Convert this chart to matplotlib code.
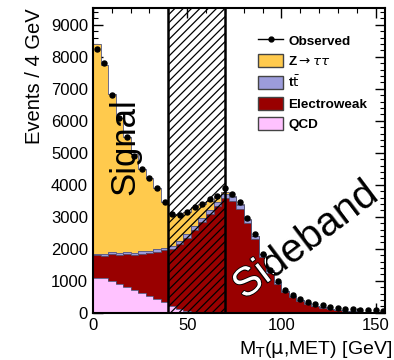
import numpy as np
import matplotlib.pyplot as plt
import matplotlib.patheffects as pe
from matplotlib.ticker import MultipleLocator

plt.rcParams['font.family'] = ['Liberation Sans', 'DejaVu Sans']
plt.rcParams['hatch.linewidth'] = 0.9

# 4 GeV bins, 0 - 156 GeV
edges = np.arange(0, 160, 4)

observed = [8250, 7800, 6800, 6100, 5500, 4900, 4500, 4200, 3900, 3450,
            3100, 3050, 3150, 3300, 3400, 3550, 3650,
            3900, 3700, 3450, 2950, 2450, 1850, 1350, 1000, 720, 560, 440,
            350, 280, 230, 190, 160, 130, 110, 95, 85, 75, 65]
qcd = [1080, 1080, 1000, 900, 800, 720, 620, 520, 430, 350,
       200, 120, 60, 30, 10, 5, 0,
       0, 0, 0, 0, 0, 0, 0, 0, 0, 0, 0, 0, 0, 0, 0, 0, 0, 0, 0, 0, 0, 0]
electroweak = [720, 700, 850, 900, 1030, 1080, 1230, 1340, 1470, 1600,
               1780, 2030, 2290, 2570, 2840, 3095, 3350,
               3600, 3500, 3250, 2800, 2300, 1750, 1250, 900, 640, 480, 360,
               270, 200, 150, 110, 80, 60, 40, 30, 20, 15, 10]
ttbar = [50, 60, 60, 70, 70, 80, 80, 80, 90, 90,
         100, 100, 110, 110, 120, 120, 120,
         120, 120, 110, 100, 90, 80, 70, 60, 50, 40, 35, 30, 25, 20, 18,
         15, 12, 10, 8, 7, 6, 5]
ztautau = [6550, 5910, 4940, 4230, 3600, 3070, 2570, 2260, 1910, 1410,
           1020, 800, 690, 590, 430, 280, 180,
           60, 40, 30, 20, 15, 10, 8, 6, 5, 4, 3, 2, 2, 1, 1, 1, 0, 0, 0,
           0, 0, 0]

components = [
    ('QCD', qcd, '#FFC2FF'),
    ('Electroweak', electroweak, '#990000'),
    (r't$\bar{\rm t}$', ttbar, '#9C9CDB'),
    (r'Z$\rightarrow\tau\tau$', ztautau, '#FFCA4D'),
]

fig = plt.figure(figsize=(3.94, 3.6), dpi=100)
ax = fig.add_axes([0.236, 0.131, 0.741, 0.847])

base = np.zeros(len(qcd))
patches = {}
for name, vals, col in components:
    top = base + np.array(vals, dtype=float)
    p = ax.stairs(top, edges, baseline=base, fill=True, color=col,
                  linewidth=0, zorder=2)
    ax.stairs(top, edges, color='#555577', linewidth=0.6, zorder=2.5)
    patches[name] = p
    base = top

centers = edges[:-1] + 2
ax.plot(centers, observed, 'o', color='black', ms=3.6, zorder=5)

# blinded region between signal and sideband
ax.axvspan(40, 70, facecolor='none', edgecolor='black', hatch='////',
           linewidth=0, zorder=3)
ax.axvline(40, color='black', lw=1.8, zorder=6)
ax.axvline(70, color='black', lw=1.8, zorder=6)

ax.text(17, 5200, 'Signal', rotation=90, fontsize=25, ha='center',
        va='center', zorder=7)
sb_kw = dict(rotation=37, fontsize=29, ha='center', va='center', zorder=7,
             rotation_mode='anchor')
ax.text(113, 2280, 'Sideband', color='black', **sb_kw)
t2 = ax.text(113, 2280, 'Sideband', color='white',
             path_effects=[pe.withStroke(linewidth=1.2, foreground='black')],
             **sb_kw)
t2.set_clip_on(True)
t2.set_clip_path(patches['Electroweak'])

ax.set_xlim(0, 155)
ax.set_ylim(0, 9530)
ax.xaxis.set_major_locator(MultipleLocator(50))
ax.xaxis.set_minor_locator(MultipleLocator(10))
ax.yaxis.set_major_locator(MultipleLocator(1000))
ax.yaxis.set_minor_locator(MultipleLocator(200))
ax.tick_params(which='both', direction='in', top=True, right=True,
               labelsize=12)
ax.tick_params(which='major', length=7, width=1)
ax.tick_params(which='minor', length=3.5, width=0.8)
for s in ax.spines.values():
    s.set_linewidth(1.5)

ax.set_ylabel('Events / 4 GeV', fontsize=14.5, loc='top')
ax.yaxis.set_label_coords(-0.168, 1.0)
ax.set_xlabel(r'M$_{\rm T}$($\mathrm{\mu}$,MET) [GeV]', fontsize=14,
              loc='right')
ax.xaxis.set_label_coords(1.025, -0.085)

leg_handles = [plt.Line2D([], [], color='black', marker='o', ms=3.5, lw=1)]
leg_handles += [plt.Rectangle((0, 0), 1, 1, facecolor=c,
                              edgecolor='#444444', lw=1)
                for n, v, c in components[::-1]]
leg_labels = ['Observed'] + [n for n, v, c in components[::-1]]
ax.legend(leg_handles, leg_labels, loc='upper left',
          bbox_to_anchor=(0.525, 0.955), frameon=False,
          prop={'size': 9.7, 'weight': 'bold'}, handlelength=1.8,
          handleheight=1.1, labelspacing=0.48, handletextpad=0.4)

fig.savefig('out.png', dpi=100)
